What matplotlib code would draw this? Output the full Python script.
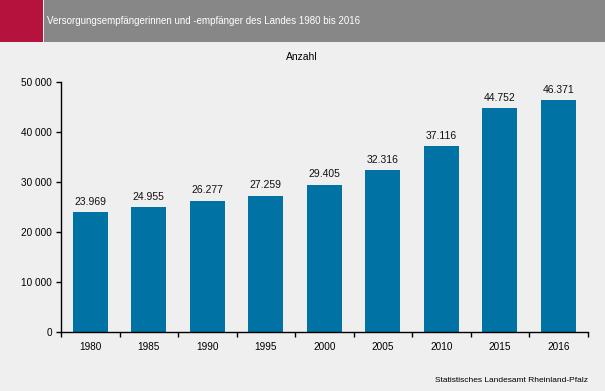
import matplotlib
matplotlib.use("Agg")
import matplotlib.pyplot as plt
from matplotlib.patches import Rectangle

years = ["1980", "1985", "1990", "1995", "2000", "2005", "2010", "2015", "2016"]
values = [23969, 24955, 26277, 27259, 29405, 32316, 37116, 44752, 46371]
yticks = [0, 10000, 20000, 30000, 40000, 50000]
ytick_labels = ["0", "10 000", "20 000", "30 000", "40 000", "50 000"]

W, H = 605, 391
bg = "#EEEFEE"
bar_color = "#0072A3"
plt.rcParams['font.family'] = ['Liberation Sans', 'DejaVu Sans']

fig = plt.figure(figsize=(W / 100, H / 100), dpi=100, facecolor=bg)

# header band
fig.patches.append(Rectangle((0, 1 - 42 / H), 43 / W, 42 / H, transform=fig.transFigure,
                             facecolor="#B5123E", edgecolor="none", zorder=0))
fig.patches.append(Rectangle((44 / W, 1 - 42 / H), 1 - 44 / W, 42 / H, transform=fig.transFigure,
                             facecolor="#878787", edgecolor="none", zorder=0))
fig.text(47 / W, 1 - 21 / H, "Versorgungsempfängerinnen und -empfänger des Landes 1980 bis 2016",
         color="white", fontsize=7.0, va="center", ha="left")

ax = fig.add_axes([61 / W, (H - 332) / H, (587.5 - 61) / W, 250 / H])
ax.set_facecolor(bg)
x = list(range(len(years)))
ax.bar(x, values, width=0.6, color=bar_color, zorder=2)
for xi, v in zip(x, values):
    ax.annotate(f"{v:,}".replace(",", "."), (xi, v), xytext=(0, 4), textcoords="offset points",
                ha="center", va="bottom", fontsize=7.5, color="#111111")

ax.set_xlim(-0.5, len(years) - 0.5)
ax.set_ylim(0, 50000)
ax.set_yticks(yticks)
ax.set_yticklabels(ytick_labels, fontsize=7.2)
ax.set_xticks(x)
ax.set_xticklabels(years, fontsize=7.2)
ax.tick_params(axis="x", length=0, pad=7)
ax.set_xticks([i - 0.5 for i in range(len(years) + 1)], minor=True)
ax.tick_params(axis="x", which="minor", length=3.5, direction="out", width=1)
ax.tick_params(axis="y", length=3.5, direction="out", width=1, pad=3)
for s in ["top", "right"]:
    ax.spines[s].set_visible(False)
for s in ["left", "bottom"]:
    ax.spines[s].set_linewidth(1)
    ax.spines[s].set_color("black")

fig.text(302 / W, 1 - 57 / H, "Anzahl", fontsize=7.5, ha="center", va="center")
fig.text(588 / W, 1 - 381 / H, "Statistisches Landesamt Rheinland-Pfalz", fontsize=6,
         ha="right", va="center")

fig.savefig("out.png", dpi=100, facecolor=bg)
